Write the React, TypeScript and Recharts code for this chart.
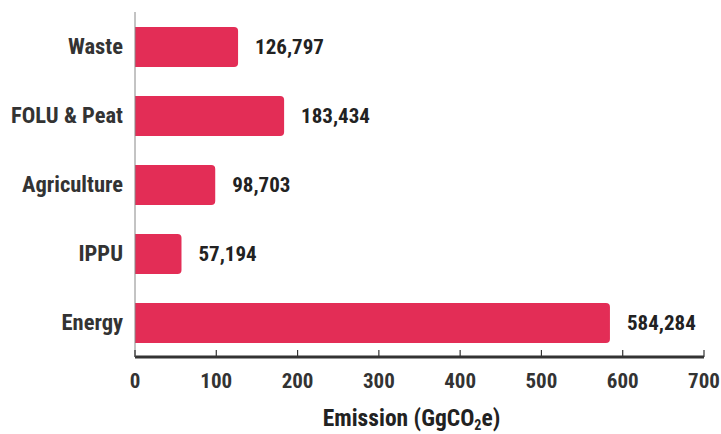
import React from 'react';
import { BarChart, Bar, XAxis, YAxis, LabelList, Label } from 'recharts';

const categories = ['Waste', 'FOLU & Peat', 'Agriculture', 'IPPU', 'Energy'];
const emissions = [126797, 183434, 98703, 57194, 584284];
const xTicks = [0, 100000, 200000, 300000, 400000, 500000, 600000, 700000];

const data = categories.map((name, i) => ({ name, value: emissions[i] }));

const FONT = '"Liberation Sans Narrow", "Roboto Condensed", Roboto, sans-serif';
const BAR_COLOR = '#E32D56';

const XTick = (props: any) => {
  const { x, y, payload } = props;
  return (
    <g>
      <line x1={x} x2={x} y1={y - 7} y2={y} stroke="#333" strokeWidth={1.2} />
      <text
        x={x}
        y={y + 31}
        textAnchor="middle"
        fill="#333"
        fontFamily={FONT}
        fontWeight="bold"
        fontSize={21}
      >
        {payload.value / 1000}
      </text>
    </g>
  );
};

const AxisTitle = (props: any) => {
  const { viewBox } = props;
  const cx = viewBox.x + viewBox.width / 2 - 8;
  return (
    <text
      x={cx}
      y={426}
      textAnchor="middle"
      fill="#222"
      fontFamily={FONT}
      fontWeight="bold"
      fontSize={23.5}
    >
      Emission (GgCO
      <tspan fontSize={14} dy={4}>2</tspan>
      <tspan dy={-4}>e)</tspan>
    </text>
  );
};

export default function App() {
  return (
    <div style={{ position: 'absolute', left: 0, top: 0 }}>
      <BarChart
        width={721}
        height={434}
        data={data}
        layout="vertical"
        margin={{ top: 12, right: 17, bottom: 0, left: 0 }}
      >
        <XAxis
          type="number"
          domain={[0, 700000]}
          ticks={xTicks}
          interval={0}
          height={77}
          axisLine={{ stroke: '#333', strokeWidth: 3 }}
          tickLine={false}
          tickSize={0}
          tickMargin={0}
          tick={<XTick />}
        >
          <Label content={<AxisTitle />} />
        </XAxis>
        <YAxis
          type="category"
          dataKey="name"
          width={135}
          axisLine={{ stroke: '#888', strokeWidth: 1 }}
          tickLine={false}
          tickSize={0}
          tickMargin={12}
          tick={{ fill: '#333', fontFamily: FONT, fontWeight: 'bold', fontSize: 22.5 }}
        />
        <Bar
          dataKey="value"
          fill={BAR_COLOR}
          barSize={40}
          radius={[0, 4, 4, 0]}
          isAnimationActive={false}
        >
          <LabelList
            dataKey="value"
            position="right"
            offset={17}
            formatter={(v: any) => Number(v).toLocaleString('en-US')}
            fill="#222"
            fontFamily={FONT}
            fontWeight="bold"
            fontSize={21}
          />
        </Bar>
      </BarChart>
    </div>
  );
}
